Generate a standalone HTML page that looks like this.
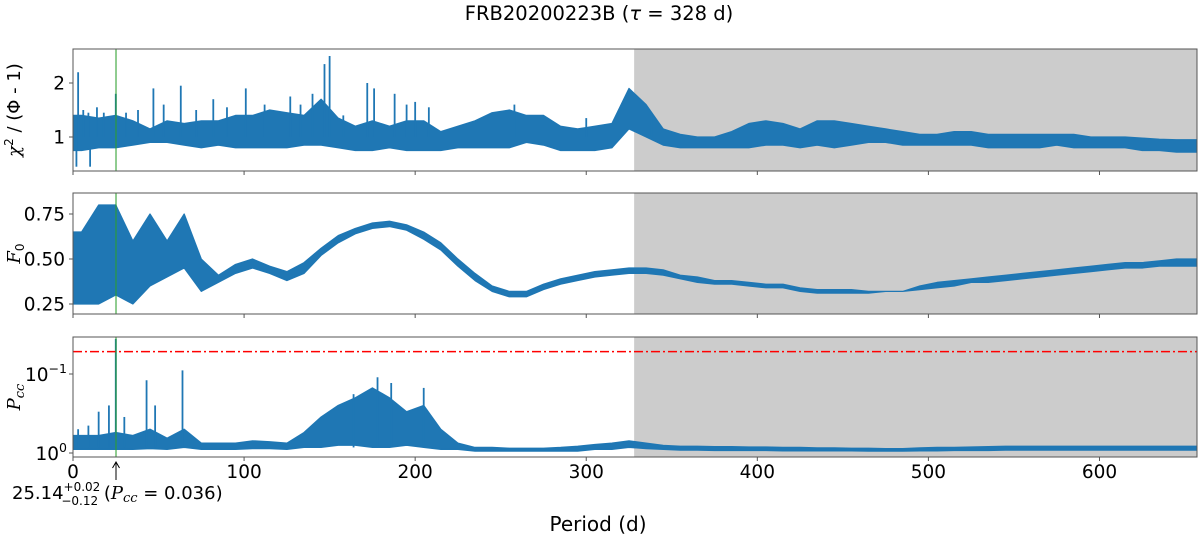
<!DOCTYPE html>
<html><head><meta charset="utf-8"><style>
html,body{margin:0;padding:0;background:#fff;}
svg{display:block;font-family:"DejaVu Sans","Liberation Sans",sans-serif;}
</style></head><body>
<svg id="chart" width="1200" height="539" viewBox="0 0 1200 539" xmlns="http://www.w3.org/2000/svg">
<text x="599" y="20" text-anchor="middle" font-size="19.5">FRB20200223B (<tspan font-style="italic">τ</tspan> = 328 d)</text>
<g id="plots"></g>
<text x="598" y="531" text-anchor="middle" font-size="20">Period (d)</text>
<text x="12" y="499" font-size="18">25.14<tspan font-size="12" dy="-8">+0.02</tspan><tspan font-size="12" dx="-39" dy="14">−0.12</tspan><tspan dy="-6"> (</tspan><tspan font-style="italic" font-family="DejaVu Serif, serif">P</tspan><tspan font-size="13" font-style="italic" font-family="DejaVu Serif, serif" dy="3">cc</tspan><tspan dy="-3"> = 0.036)</tspan></text>
</svg>
<script>
// ---- data (10-day bins, 0..660 d) ----
const binStarts = [0,10,20,30,40,50,60,70,80,90,100,110,120,130,140,150,160,170,180,190,200,210,220,230,240,250,260,270,280,290,300,310,320,330,340,350,360,370,380,390,400,410,420,430,440,450,460,470,480,490,500,510,520,530,540,550,560,570,580,590,600,610,620,630,640,650];
const chiLo = [0.75,0.8,0.8,0.85,0.9,0.9,0.85,0.8,0.85,0.8,0.8,0.8,0.8,0.85,0.85,0.8,0.75,0.75,0.8,0.75,0.75,0.75,0.8,0.8,0.8,0.8,0.9,0.85,0.75,0.75,0.75,0.8,1.15,1.0,0.85,0.8,0.8,0.8,0.8,0.8,0.85,0.85,0.8,0.85,0.8,0.85,0.9,0.9,0.85,0.85,0.85,0.85,0.85,0.8,0.8,0.8,0.8,0.85,0.8,0.8,0.8,0.8,0.75,0.75,0.72,0.72];
const chiHi = [1.4,1.35,1.4,1.3,1.15,1.3,1.25,1.3,1.3,1.4,1.4,1.5,1.45,1.4,1.7,1.35,1.2,1.3,1.2,1.3,1.3,1.1,1.2,1.3,1.45,1.5,1.4,1.4,1.2,1.15,1.2,1.25,1.9,1.6,1.15,1.05,1.0,1.0,1.1,1.25,1.3,1.25,1.15,1.3,1.3,1.25,1.2,1.15,1.1,1.05,1.05,1.1,1.1,1.05,1.05,1.05,1.05,1.05,1.05,1.0,1.0,1.0,0.98,0.96,0.95,0.95];
const chiSpikeP = [3,6,9,14,18,25,31,38,47,53,63,72,82,90,101,112,127,133,140,147,150,158,172,176,188,195,200,208,2,10,338,258,300];
const chiSpikeV = [2.2,1.5,1.45,1.55,1.45,1.8,1.45,1.5,1.9,1.6,1.95,1.5,1.7,1.55,1.9,1.6,1.75,1.6,1.8,2.35,2.5,1.4,2.0,1.9,1.8,1.6,1.65,1.55,0.45,0.45,1.45,1.6,1.35];
const f0Lo = [0.25,0.25,0.3,0.25,0.35,0.4,0.45,0.32,0.37,0.42,0.45,0.42,0.38,0.42,0.52,0.59,0.64,0.67,0.68,0.66,0.61,0.55,0.46,0.38,0.32,0.29,0.29,0.33,0.36,0.38,0.4,0.41,0.42,0.42,0.41,0.39,0.37,0.36,0.36,0.35,0.34,0.34,0.32,0.31,0.31,0.31,0.31,0.32,0.32,0.33,0.34,0.35,0.37,0.37,0.38,0.39,0.4,0.41,0.42,0.43,0.44,0.45,0.45,0.46,0.46,0.46];
const f0Hi = [0.65,0.8,0.8,0.6,0.75,0.6,0.75,0.5,0.41,0.47,0.5,0.46,0.43,0.48,0.56,0.63,0.67,0.7,0.71,0.69,0.65,0.59,0.5,0.42,0.35,0.32,0.32,0.36,0.39,0.41,0.43,0.44,0.45,0.45,0.44,0.41,0.4,0.38,0.38,0.37,0.36,0.36,0.34,0.33,0.33,0.33,0.32,0.32,0.32,0.35,0.37,0.38,0.39,0.4,0.41,0.42,0.43,0.44,0.45,0.46,0.47,0.48,0.48,0.49,0.5,0.5];
const pccBot = [0.9,0.9,0.9,0.9,0.88,0.9,0.85,0.9,0.9,0.9,0.88,0.88,0.9,0.85,0.85,0.8,0.8,0.85,0.85,0.8,0.85,0.9,0.9,0.95,0.95,0.95,0.95,0.95,0.95,0.95,0.9,0.9,0.85,0.88,0.9,0.92,0.92,0.93,0.93,0.93,0.93,0.94,0.94,0.94,0.94,0.94,0.95,0.95,0.95,0.94,0.94,0.93,0.93,0.93,0.92,0.92,0.92,0.92,0.92,0.92,0.92,0.92,0.92,0.92,0.92,0.92];
const pccTop = [0.6,0.6,0.55,0.6,0.5,0.65,0.5,0.75,0.75,0.75,0.7,0.72,0.75,0.55,0.35,0.25,0.2,0.15,0.2,0.3,0.25,0.5,0.75,0.85,0.85,0.87,0.87,0.87,0.85,0.82,0.78,0.75,0.7,0.75,0.8,0.82,0.82,0.83,0.83,0.84,0.84,0.85,0.85,0.86,0.86,0.87,0.87,0.88,0.88,0.86,0.85,0.85,0.84,0.83,0.82,0.82,0.82,0.82,0.82,0.82,0.82,0.82,0.82,0.82,0.82,0.82];
const pccSpikeP = [3,9,15,21,25,30,43,48,64,164,178,186,205];
const pccSpikeV = [0.5,0.45,0.3,0.25,0.036,0.35,0.12,0.25,0.09,0.18,0.11,0.13,0.15];
const xTicks = [0,100,200,300,400,500,600];
const chiTicks = [1,2];
const f0Ticks = [0.25,0.5,0.75];
const f0TickLabels = ["0.25","0.50","0.75"];
const bestPeriod = 25.14;
const tauDays = 328;
const pccThreshold = 0.052;

const NS = "http://www.w3.org/2000/svg";
const X0 = 73, X1 = 1197, XMAX = 657;
const xs = p => X0 + p / XMAX * (X1 - X0);
const panels = [
  {top:49, bot:171, y:v => 137 - (v-1)*54},
  {top:193, bot:314, y:v => 259 - (v-0.5)*180},
  {top:337, bot:457, y:v => 453 + Math.log10(v)*79}
];
const root = document.getElementById('plots');
function mk(tag, attrs, parent){ const e=document.createElementNS(NS,tag); for(const k in attrs) e.setAttribute(k,attrs[k]); (parent||root).appendChild(e); return e; }

function envelope(g, lo, hi, yf){
  let up = [], dn = [];
  binStarts.forEach((b,i)=>{
    const xc = xs(b+5);
    up.push([xc,yf(hi[i])]);
    dn.push([xc,yf(lo[i])]);
  });
  up.unshift([xs(0),up[0][1]]); dn.unshift([xs(0),dn[0][1]]);
  up.push([X1,up[up.length-1][1]]); dn.push([X1,dn[dn.length-1][1]]);
  const pts = up.concat(dn.reverse()).map(p=>p[0].toFixed(1)+','+p[1].toFixed(1)).join(' ');
  const poly = mk('polygon',{points:pts,fill:'#1f77b4',stroke:'#1f77b4','stroke-width':1.2,'stroke-linejoin':'round'},g);
  
  
}
function spikes(g, ps, vs, yf, baseF){
  ps.forEach((p,i)=>{
    const l = mk('line',{x1:xs(p),x2:xs(p),y1:yf(baseF(p)),y2:yf(vs[i]),stroke:'#1f77b4','stroke-width':1.8},g);
    
    
  });
}

panels.forEach((P,pi)=>{
  const g = mk('g',{});
  
  
  const cid = 'clip'+pi;
  const cp = mk('clipPath',{id:cid},g); mk('rect',{x:X0,y:P.top,width:X1-X0,height:P.bot-P.top},cp);
  const sh = mk('rect',{x:xs(tauDays),y:P.top,width:X1-xs(tauDays),height:P.bot-P.top,fill:'#cccccc'},g);
  
  
  const dg = mk('g',{'clip-path':'url(#'+cid+')'},g);
  if(pi===0){ envelope(dg,chiLo,chiHi,P.y); spikes(dg,chiSpikeP,chiSpikeV,P.y,p=>1.0); }
  if(pi===1){ envelope(dg,f0Lo,f0Hi,P.y); }
  if(pi===2){
    const th = mk('line',{x1:X0,x2:X1,y1:P.y(pccThreshold),y2:P.y(pccThreshold),stroke:'#ff0000','stroke-width':1.5,'stroke-dasharray':'9,3,2,3'},g);
    
    
    envelope(dg,pccBot,pccTop,P.y); spikes(dg,pccSpikeP,pccSpikeV,P.y,p=>0.85);
  }
  const gl = mk('line',{x1:xs(bestPeriod),x2:xs(bestPeriod),y1:P.top,y2:P.bot,stroke:'#2ca02c','stroke-opacity':0.7,'stroke-width':1.5},g);
  
  
  const fr = mk('rect',{x:X0,y:P.top,width:X1-X0,height:P.bot-P.top,fill:'none',stroke:'#555','stroke-width':1},g);
  
  
  xTicks.forEach(t=>{
    const tk = mk('line',{x1:xs(t),x2:xs(t),y1:P.bot,y2:P.bot+4,stroke:'#555','stroke-width':1},g);
    
    
    if(pi===2){
      const tl = mk('text',{x:xs(t),y:478,'text-anchor':'middle','font-size':18.5},g);
      tl.textContent = t;
      
      
    }
  });
  let yt=[], yl=[];
  if(pi===0){ yt=chiTicks; yl=chiTicks.map(String); }
  if(pi===1){ yt=f0Ticks; yl=f0TickLabels; }
  yt.forEach((t,i)=>{
    mk('line',{x1:X0-4,x2:X0,y1:P.y(t),y2:P.y(t),stroke:'#555'},g);
    const tl = mk('text',{x:X0-8,y:P.y(t)+6.5,'text-anchor':'end','font-size':18.5},g);
    tl.textContent = yl[i];
    
    
  });
  if(pi===2){
    [[1,'0'],[0.1,'−1']].forEach(([v,e])=>{
      mk('line',{x1:X0-4,x2:X0,y1:P.y(v),y2:P.y(v),stroke:'#555'},g);
      const tl = mk('text',{x:X0-6,y:P.y(v)+7,'text-anchor':'end','font-size':18.5},g);
      tl.innerHTML = '10<tspan font-size="12.5" dy="-8">'+e+'</tspan>';
      
      
    });
  }
  const ylab = mk('text',{transform:'translate(20,'+((P.top+P.bot)/2)+') rotate(-90)','text-anchor':'middle','font-size':18},g);
  
  
  if(pi===0) ylab.innerHTML = '<tspan font-style="italic" font-family="DejaVu Serif, serif">χ</tspan><tspan font-size="12" dy="-7">2</tspan><tspan dy="7"> / (Φ - 1)</tspan>';
  if(pi===1) ylab.innerHTML = '<tspan font-style="italic" font-family="DejaVu Serif, serif">F</tspan><tspan font-size="12" dy="4">0</tspan>';
  if(pi===2) ylab.innerHTML = '<tspan font-style="italic" font-family="DejaVu Serif, serif">P</tspan><tspan font-size="13" font-style="italic" font-family="DejaVu Serif, serif" dy="4">cc</tspan>';
});
const ar = mk('g',{});


mk('line',{x1:xs(bestPeriod),x2:xs(bestPeriod),y1:462,y2:480,stroke:'#000','stroke-width':1},ar);
mk('path',{d:'M'+(xs(bestPeriod)-3.5)+',468 L'+xs(bestPeriod)+',462 L'+(xs(bestPeriod)+3.5)+',468',fill:'none',stroke:'#000'},ar);
</script>
</body></html>
